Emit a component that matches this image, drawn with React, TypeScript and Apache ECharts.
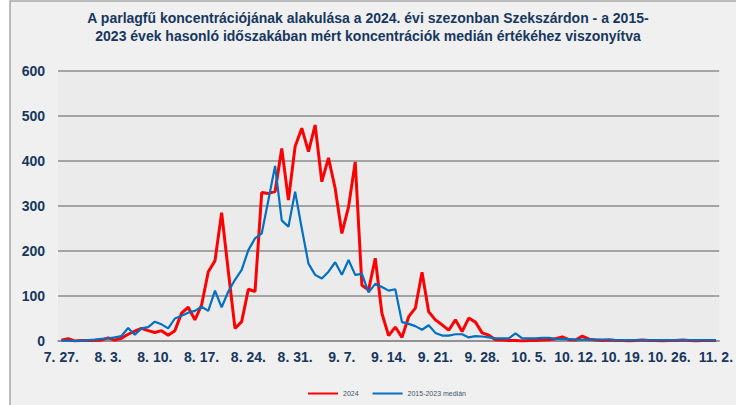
import React, { useEffect, useRef } from "react";
import * as echarts from "echarts";

// Category labels: daily dates 7.27 – 11.2 (2024 season)
const monthDays: [number, number, number][] = [
  [7, 27, 31],
  [8, 1, 31],
  [9, 1, 30],
  [10, 1, 31],
  [11, 1, 2],
];
const categories: string[] = [];
for (const [m, from, to] of monthDays) {
  for (let d = from; d <= to; d++) categories.push(`${m}. ${d}.`);
}

const yTicks = [0, 100, 200, 300, 400, 500, 600];

// 2024 daily pollen concentration (red)
const series2024 = [
  2, 5, 0, 1, 1, 1, 2, 7, 2, 6,
  15, 22, 28, 23, 19, 23, 13, 23, 62, 75,
  47, 80, 154, 178, 285, 155, 28, 43, 115, 110,
  330, 328, 332, 428, 313, 432, 473, 421, 480, 354,
  407, 339, 239, 298, 398, 124, 113, 184, 61, 12,
  31, 8, 54, 73, 153, 65, 47, 36, 24, 47,
  21, 51, 42, 18, 13, 3, 2, 1, 1, 0,
  1, 1, 2, 3, 5, 9, 3, 2, 11, 4,
  2, 1, 2, 1, 1, 0, 1, 2, 1, 1,
  0, 1, 1, 2, 1, 0, 1, 1, 1,
];

// 2015–2023 median for the same period (blue)
const seriesMedian = [
  1, 1, 0, 1, 2, 3, 5, 6, 8, 11,
  29, 14, 28, 31, 43, 37, 28, 50, 56, 63,
  67, 76, 67, 112, 75, 110, 136, 158, 202, 228,
  239, 313, 389, 268, 254, 332, 250, 172, 147, 139,
  154, 175, 147, 180, 147, 149, 108, 127, 120, 112,
  115, 42, 38, 33, 25, 35, 18, 12, 12, 15,
  15, 8, 11, 10, 8, 6, 6, 6, 17, 6,
  6, 6, 7, 7, 5, 4, 4, 3, 3, 3,
  3, 3, 3, 2, 2, 2, 2, 2, 2, 2,
  2, 2, 2, 2, 2, 2, 2, 2, 2,
];

const seriesNames = ["2024", "2015-2023 medián"];
const titleText =
  "A parlagfű koncentrációjának alakulása a 2024. évi szezonban Szekszárdon - a 2015-\n2023 évek hasonló időszakában mért koncentrációk medián értékéhez viszonyítva";

const NAVY = "#17375e";
const FONT = "'Liberation Sans', Arial, sans-serif";

export default function App() {
  const ref = useRef<HTMLDivElement>(null);

  useEffect(() => {
    document.body.style.margin = "0";
    if (!ref.current) return;
    const chart = echarts.init(ref.current, null, { renderer: "svg" });
    chart.setOption({
      animation: false,
      backgroundColor: "#ffffff",
      graphic: [
        {
          type: "rect",
          z: -10,
          shape: { x: 10, y: 1, width: 740, height: 420 },
          style: { fill: "#f0f0f0", stroke: "#a6a6a6", lineWidth: 1.5 },
        },
      ],
      title: {
        text: titleText,
        left: "center",
        top: 4,
        textStyle: {
          fontFamily: FONT,
          fontSize: 14,
          fontWeight: "bold",
          color: NAVY,
          lineHeight: 18,
        },
      },
      legend: {
        data: seriesNames,
        left: 303,
        top: 385,
        icon: "rect",
        itemWidth: 30,
        itemHeight: 2,
        itemGap: 14,
        textStyle: { fontFamily: FONT, fontSize: 7, color: "#44546a" },
      },
      grid: {
        left: 58,
        right: 11,
        top: 71,
        bottom: 64,
        show: true,
        backgroundColor: "#ebebeb",
        borderWidth: 0,
      },
      xAxis: {
        type: "category",
        data: categories,
        boundaryGap: true,
        axisLine: { show: true, lineStyle: { color: "#8c8c8c", width: 1.5 } },
        axisTick: { show: false },
        axisLabel: {
          interval: 6,
          margin: 9,
          fontFamily: FONT,
          fontSize: 14,
          fontWeight: "bold",
          color: NAVY,
        },
        splitLine: { show: false },
      },
      yAxis: {
        type: "value",
        min: yTicks[0],
        max: yTicks[yTicks.length - 1],
        interval: 100,
        axisLine: { show: false },
        axisTick: { show: false },
        axisLabel: {
          margin: 13,
          fontFamily: FONT,
          fontSize: 14,
          fontWeight: "bold",
          color: NAVY,
        },
        splitLine: { show: true, lineStyle: { color: "#8c8c8c", width: 1.5 } },
      },
      series: [
        {
          name: seriesNames[0],
          type: "line",
          data: series2024,
          showSymbol: false,
          symbol: "none",
          lineStyle: { color: "#ff0000", width: 3 },
          itemStyle: { color: "#ff0000" },
          z: 2,
        },
        {
          name: seriesNames[1],
          type: "line",
          data: seriesMedian,
          showSymbol: false,
          symbol: "none",
          lineStyle: { color: "#0070c0", width: 2.2 },
          itemStyle: { color: "#0070c0" },
          z: 3,
        },
      ],
    });
    return () => chart.dispose();
  }, []);

  return <div ref={ref} style={{ width: 736, height: 405 }} />;
}
